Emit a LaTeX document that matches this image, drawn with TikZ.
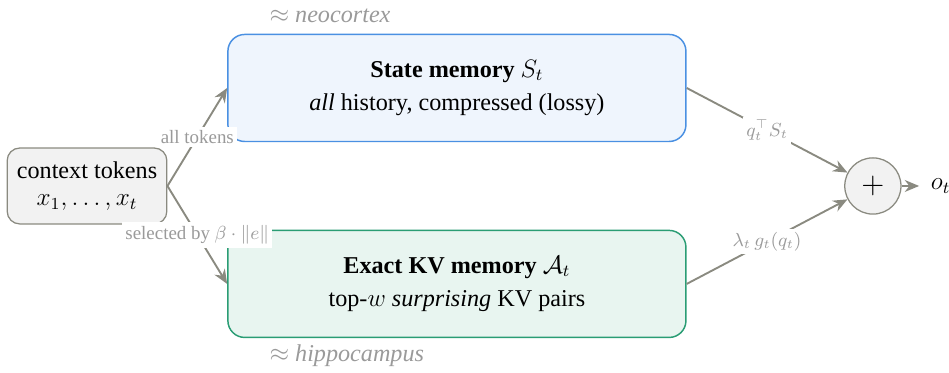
\documentclass[tikz,border=0pt]{standalone}
\usepackage{fontspec}
\setmainfont{Liberation Serif}[
    ItalicFont={Liberation Serif Italic},
    BoldFont={Liberation Serif Bold},
    BoldItalicFont={Liberation Serif Bold Italic}]
\usetikzlibrary{arrows.meta,positioning}

\definecolor{lineg}{HTML}{8A8A80}
\definecolor{labg}{HTML}{9A9A9A}
\definecolor{stateb}{HTML}{4A90E2}
\definecolor{statef}{HTML}{EFF5FD}
\definecolor{kvb}{HTML}{2A9D74}
\definecolor{kvf}{HTML}{E8F5F0}

\begin{document}
\begin{tikzpicture}[
        font=\fontsize{11.5}{14}\selectfont,
        membox/.style={rounded corners=8pt, line width=0.7pt, minimum width=7.66cm,
            minimum height=1.79cm, align=center},
        flow/.style={-{Stealth[length=0.24cm,width=0.2cm]}, lineg, line width=0.9pt},
        edgelab/.style={fill=white, inner sep=1.5pt, text=labg, font=\fontsize{9}{11}\selectfont},
        brain/.style={text=labg, inner sep=0pt, font=\fontsize{11.5}{14}\selectfont\itshape}
    ]
    \useasboundingbox (0, 0) rectangle (15.87, -6.237);

    \node[draw=lineg, fill=black!5, rounded corners=6pt, line width=0.6pt, align=center,
        minimum width=2.67cm, minimum height=1.27cm] (ctx) at (1.455, -3.11)
        {context tokens\\[-1pt] $x_1, \ldots, x_t$};

    \node[membox, draw=stateb, fill=statef] (state) at (7.641, -1.471)
        {\textbf{State memory} $S_t$\\[2pt] \textit{all} history, compressed (lossy)};
    \node[membox, draw=kvb, fill=kvf] (kv) at (7.641, -4.748)
        {\textbf{Exact KV memory} $\mathcal{A}_t$\\[2pt] top-$w$ \textit{surprising} KV pairs};

    \node[brain, anchor=west] (neo) at (4.5, -0.27) {$\approx$ neocortex};
    \node[brain, anchor=west] (hip) at (4.5, -5.95) {$\approx$ hippocampus};

    \node[draw=lineg, fill=black!5, circle, minimum size=0.94cm, inner sep=0pt,
        line width=0.6pt] (sum) at (14.597, -3.11) {\Large $+$};
    \node[anchor=west, inner sep=0pt] (out) at (15.56, -3.11) {$o_t$};

    \draw[flow] (ctx.east) -- node[edgelab] {all tokens} (state.west);
    \draw[flow] (ctx.east) -- node[edgelab] {selected by $\beta \cdot \|e\|$} (kv.west);

    \draw[flow] (state.east) -- node[edgelab] {$q_t^{\top} S_t$} (sum);
    \draw[flow] (kv.east) -- node[edgelab] {$\lambda_t\, g_t(q_t)$} (sum);
    \draw[flow, shorten >=0.19cm] (sum) -- (out);
\end{tikzpicture}
\end{document}
